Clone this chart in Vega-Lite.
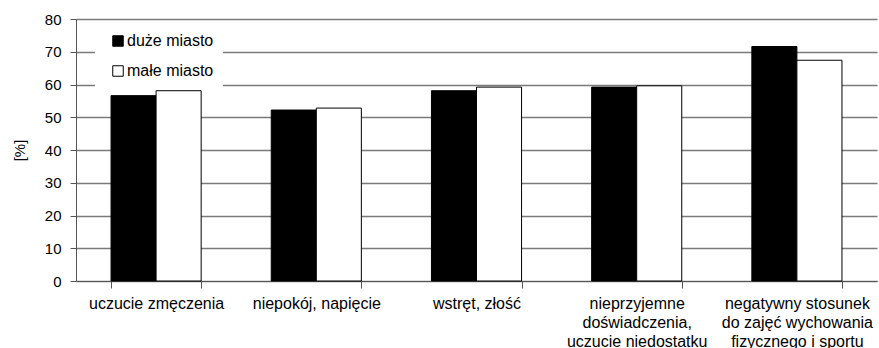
{
  "$schema": "https://vega.github.io/schema/vega-lite/v6.json",
  "autosize": "none",
  "width": 801,
  "height": 262,
  "padding": {"left": 76, "top": 19, "right": 2, "bottom": 67},
  "background": "white",
  "config": {
    "font": "Liberation Sans",
    "view": {"stroke": null}
  },
  "data": {
    "values": [
      {"kategoria": "uczucie zmęczenia", "miasto": "duże miasto", "procent": 56.6},
      {"kategoria": "uczucie zmęczenia", "miasto": "małe miasto", "procent": 58.1},
      {"kategoria": "niepokój, napięcie", "miasto": "duże miasto", "procent": 52.2},
      {"kategoria": "niepokój, napięcie", "miasto": "małe miasto", "procent": 52.8},
      {"kategoria": "wstręt, złość", "miasto": "duże miasto", "procent": 58.1},
      {"kategoria": "wstręt, złość", "miasto": "małe miasto", "procent": 59.2},
      {"kategoria": "nieprzyjemne|doświadczenia,|uczucie niedostatku", "miasto": "duże miasto", "procent": 59.2},
      {"kategoria": "nieprzyjemne|doświadczenia,|uczucie niedostatku", "miasto": "małe miasto", "procent": 59.6},
      {"kategoria": "negatywny stosunek|do zajęć wychowania|fizycznego i sportu", "miasto": "duże miasto", "procent": 71.6},
      {"kategoria": "negatywny stosunek|do zajęć wychowania|fizycznego i sportu", "miasto": "małe miasto", "procent": 67.4}
    ]
  },
  "mark": {"type": "bar", "stroke": "black", "strokeWidth": 1},
  "encoding": {
    "x": {
      "field": "kategoria",
      "type": "nominal",
      "sort": null,
      "scale": {"paddingInner": 0.4375, "paddingOuter": 0.21875},
      "axis": {
        "title": null,
        "labelAngle": 0,
        "labelExpr": "split(datum.label, '|')",
        "labelFontSize": 16,
        "labelColor": "black",
        "labelPadding": 7,
        "labelLineHeight": 19,
        "tickBand": "extent",
        "tickSize": 7,
        "tickColor": "#555555",
        "domainColor": "#555555",
        "labelLimit": 300
      }
    },
    "xOffset": {"field": "miasto", "type": "nominal", "sort": ["duże miasto", "małe miasto"], "scale": {"paddingInner": 0, "paddingOuter": 0}},
    "y": {
      "field": "procent",
      "type": "quantitative",
      "scale": {"domain": [0, 80]},
      "axis": {
        "title": "[%]",
        "titleFontSize": 15,
        "titleFontWeight": "normal",
        "titleColor": "black",
        "titlePadding": 17,
        "values": [0, 10, 20, 30, 40, 50, 60, 70, 80],
        "labelOverlap": false,
        "labelFontSize": 15,
        "labelColor": "black",
        "labelPadding": 9,
        "tickSize": 6,
        "tickColor": "#555555",
        "domainColor": "#555555",
        "gridColor": "#7a7a7a",
        "gridWidth": 1.5
      }
    },
    "fill": {
      "field": "miasto",
      "type": "nominal",
      "sort": ["duże miasto", "małe miasto"],
      "scale": {"domain": ["duże miasto", "małe miasto"], "range": ["black", "white"]},
      "legend": {
        "title": null,
        "orient": "none",
        "legendX": 19,
        "legendY": 5,
        "padding": 9,
        "fillColor": "white",
        "labelFontSize": 16,
        "labelColor": "black",
        "symbolType": "square",
        "symbolSize": 110,
        "symbolOffset": 6,
        "symbolStrokeColor": "black",
        "symbolStrokeWidth": 1,
        "rowPadding": 14,
        "labelOffset": 1
      }
    }
  }
}
